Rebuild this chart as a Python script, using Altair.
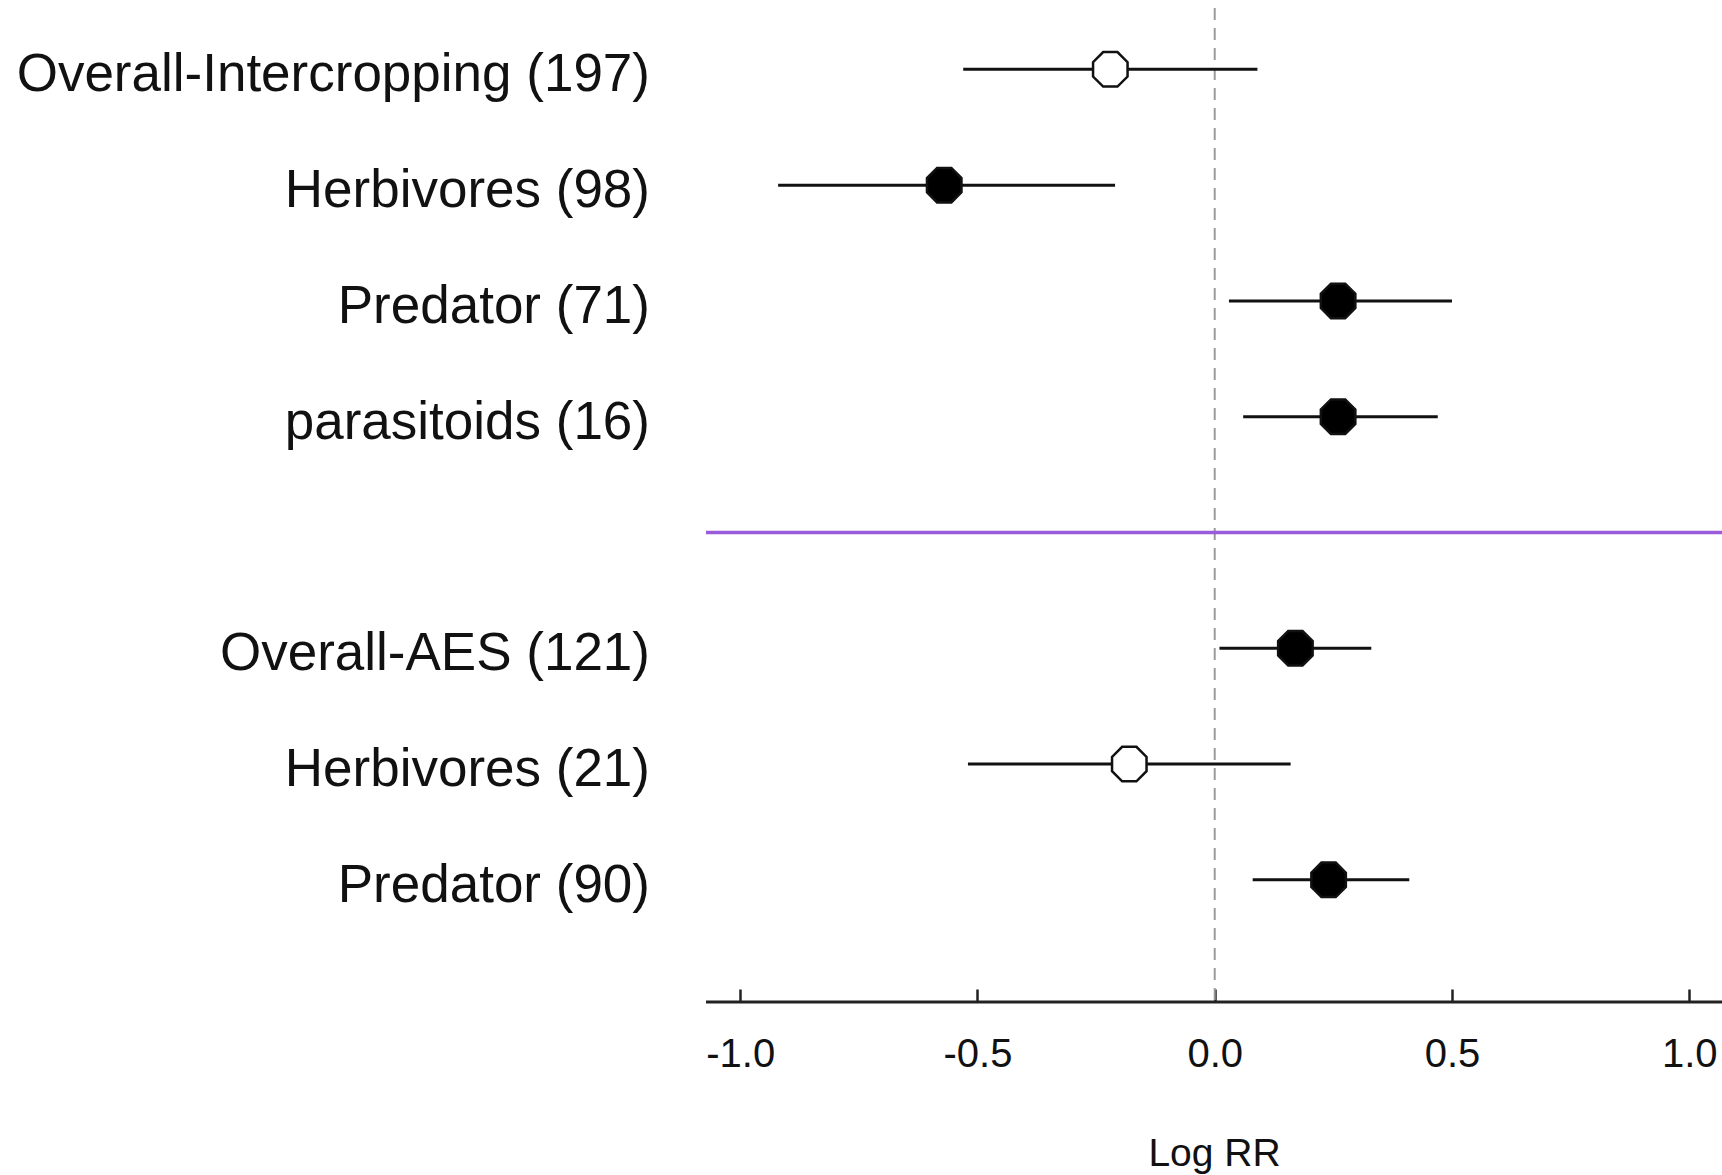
import altair as alt
import pandas as pd

# Forest plot of log response ratios with 95% confidence intervals
labels = [
    "Overall-Intercropping (197)",
    "Herbivores (98)",
    "Predator (71)",
    "parasitoids (16)",
    "Overall-AES (121)",
    "Herbivores (21)",
    "Predator (90)",
]
rows = [1, 2, 3, 4, 6, 7, 8]
log_rr = [-0.22, -0.57, 0.26, 0.26, 0.17, -0.18, 0.24]
ci_low = [-0.53, -0.92, 0.03, 0.06, 0.01, -0.52, 0.08]
ci_high = [0.09, -0.21, 0.50, 0.47, 0.33, 0.16, 0.41]
significant = [False, True, True, True, True, False, True]
divider_rows = [5]
x_ticks = [-1.0, -0.5, 0.0, 0.5, 1.0]

W, H = 1016, 994
FONT = "Liberation Sans, Arial, Helvetica, sans-serif"
OCTAGON = ("M -0.4142 -1 L 0.4142 -1 L 1 -0.4142 L 1 0.4142 "
           "L 0.4142 1 L -0.4142 1 L -1 0.4142 L -1 -0.4142 Z")

df = pd.DataFrame({
    "label": labels,
    "row": rows,
    "rr": log_rr,
    "lo": ci_low,
    "hi": ci_high,
    "sig": significant,
})
zero_df = pd.DataFrame({"x": [0.0]})
divider_df = pd.DataFrame({"row": divider_rows})

x_scale = alt.Scale(domain=[-1.072, 1.069], nice=False, zero=False)
y_scale = alt.Scale(domain=[0.47, 9.055], reverse=True, nice=False, zero=False)

x_axis = alt.Axis(
    values=x_ticks,
    labelExpr="datum.value < 0 ? '-' + format(-datum.value, '.1f') : format(datum.value, '.1f')",
    domain=False,
    grid=False,
    ticks=True,
    tickSize=13,
    tickWidth=2.5,
    tickColor="#222222",
    offset=-13,
    labelFont=FONT,
    labelFontSize=40,
    labelColor="#111111",
    labelPadding=32,
    labelFlush=False,
    labelOverlap=False,
    title="Log RR",
    titleFont=FONT,
    titleFontSize=39,
    titleFontWeight="normal",
    titleColor="#111111",
    titleY=176,
    titleBaseline="alphabetic",
)

y_enc = alt.Y("row:Q", scale=y_scale, axis=None)

# reference line at zero
zero_line = alt.Chart(zero_df).mark_rule(
    color="#9a9a9a", strokeWidth=2, strokeDash=[12, 8]
).encode(
    x=alt.X("x:Q", scale=x_scale, axis=x_axis),
    y=alt.value(0),
    y2=alt.value(H),
)

# separator between the two groups
divider = alt.Chart(divider_df).mark_rule(
    color="#9b5cdc", strokeWidth=3.5
).encode(
    y=y_enc,
    x=alt.value(0),
    x2=alt.value(W),
)

# x baseline
baseline = alt.Chart(zero_df).mark_rule(
    color="#222222", strokeWidth=3
).encode(
    x=alt.value(0),
    x2=alt.value(W),
    y=alt.value(H),
)

ci = alt.Chart(df).mark_rule(color="#111111", strokeWidth=3).encode(
    x=alt.X("lo:Q", scale=x_scale, axis=x_axis),
    x2="hi:Q",
    y=y_enc,
)

points = alt.Chart(df).mark_point(
    shape=OCTAGON, size=1190, stroke="#111111", strokeWidth=2.5,
    opacity=1, fillOpacity=1,
).encode(
    x=alt.X("rr:Q", scale=x_scale, axis=x_axis),
    y=y_enc,
    fill=alt.Fill("sig:N", scale=alt.Scale(domain=[True, False], range=["#000000", "#ffffff"]), legend=None),
)

row_labels = alt.Chart(df).mark_text(
    align="right", baseline="middle", font=FONT, fontSize=53, color="#111111", dy=6
).encode(
    x=alt.value(-56),
    y=y_enc,
    text="label:N",
)

chart = alt.layer(zero_line, divider, baseline, ci, points, row_labels).properties(
    width=W,
    height=H,
    autosize=alt.AutoSizeParams(type="none"),
    padding={"left": 706, "top": 8, "right": 0, "bottom": 173},
    background="white",
).configure_view(stroke=None)

chart.save("out.html", embed_options={"renderer": "svg", "actions": False})
